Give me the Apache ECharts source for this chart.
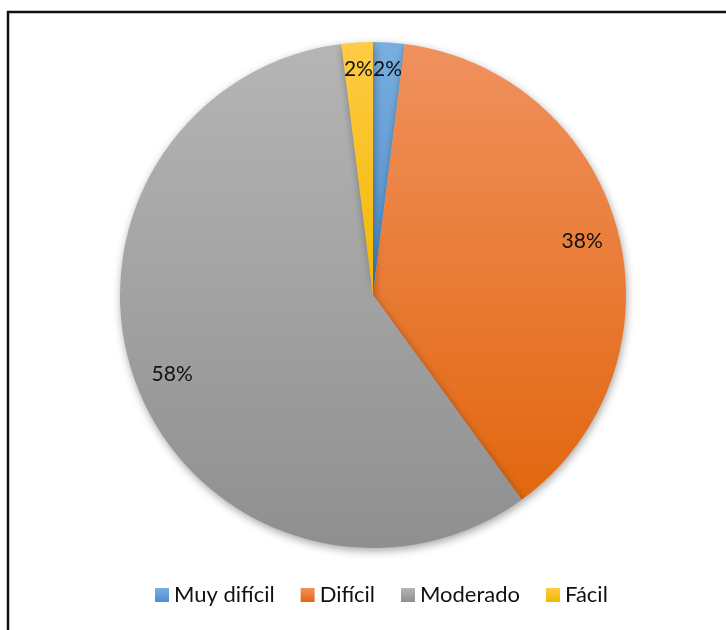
<!DOCTYPE html>
<html>
<head>
<meta charset="utf-8">
<script src="https://cdn.jsdelivr.net/npm/echarts@6/dist/echarts.min.js"></script>
<style>
  html, body { margin: 0; padding: 0; background: #fff; }
  #main { width: 726px; height: 630px; }
</style>
</head>
<body>
<div id="main"></div>
<script>
  // datos del gráfico
  var categories = ['Muy difícil', 'Difícil', 'Moderado', 'Fácil'];
  var values = [2, 38, 58, 2];

  // colores tipo Excel (arriba claro -> abajo oscuro)
  var colorPairs = [
    ['#79AEE0', '#4E8FCC'],
    ['#F0915E', '#E2670F'],
    ['#B5B5B5', '#8F8F8F'],
    ['#FFCB45', '#F2B800']
  ];

  // pequeño ajuste de las etiquetas de los sectores chicos
  var labelOffsets = [[1, -10], null, null, [-1, -10]];

  function grad(pair) {
    return {
      type: 'linear', x: 0, y: 0, x2: 0, y2: 1,
      colorStops: [{ offset: 0, color: pair[0] }, { offset: 1, color: pair[1] }]
    };
  }

  var pieData = categories.map(function (name, i) {
    return { name: name, value: values[i], itemStyle: { color: grad(colorPairs[i]) } };
  });

  // serie invisible solo para colocar las etiquetas mas cerca del borde
  var labelData = categories.map(function (name, i) {
    var d = { name: name, value: values[i] };
    if (labelOffsets[i]) {
      d.label = { offset: labelOffsets[i] };
    }
    return d;
  });

  var myChart = echarts.init(document.getElementById('main'), null, { renderer: 'canvas' });

  myChart.setOption({
    backgroundColor: '#fff',
    animation: false,
    color: colorPairs.map(function (p) { return p[1]; }),
    graphic: [
      { type: 'line', shape: { x1: 7, y1: 12, x2: 726, y2: 12 }, style: { stroke: '#111', lineWidth: 2.5 } },
      { type: 'line', shape: { x1: 8, y1: 11, x2: 8, y2: 630 }, style: { stroke: '#111', lineWidth: 2.5 } }
    ],
    legend: {
      data: categories,
      bottom: 19,
      left: 150,
      icon: 'rect',
      itemWidth: 14,
      itemHeight: 14,
      itemGap: 26,
      textStyle: { fontFamily: 'Lato, "Open Sans", sans-serif', fontSize: 22, color: '#111' }
    },
    series: [
      {
        type: 'pie',
        center: [373, 295],
        radius: [0, 253],
        startAngle: 90,
        clockwise: true,
        label: { show: false },
        labelLine: { show: false },
        itemStyle: {
          borderWidth: 0,
          shadowBlur: 8,
          shadowOffsetX: 1,
          shadowOffsetY: 3,
          shadowColor: 'rgba(0,0,0,0.35)'
        },
        emphasis: { disabled: true },
        data: pieData
      },
      {
        type: 'pie',
        center: [373, 295],
        radius: [173, 253],
        startAngle: 90,
        clockwise: true,
        silent: true,
        avoidLabelOverlap: false,
        labelLayout: { hideOverlap: false },
        legendHoverLink: false,
        itemStyle: { color: 'transparent', borderWidth: 0 },
        label: {
          show: true,
          position: 'inside',
          formatter: '{c}%',
          fontFamily: 'Lato, "Open Sans", sans-serif',
          fontSize: 21,
          color: '#111'
        },
        labelLine: { show: false },
        emphasis: { disabled: true },
        data: labelData
      }
    ]
  });
</script>
</body>
</html>
